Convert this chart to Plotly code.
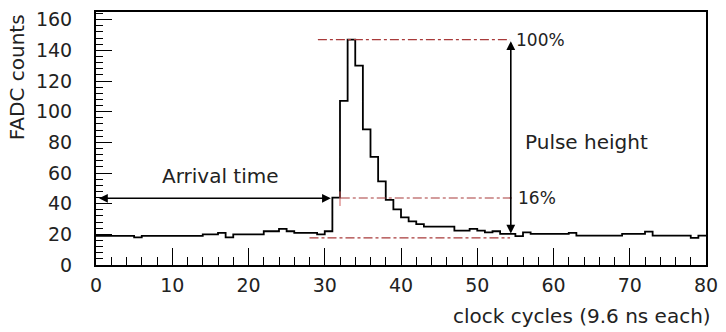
import plotly.graph_objects as go

# FADC counts per clock cycle (bin i spans [i, i+1])
counts = [19, 19, 19, 19, 19, 18, 19, 19, 19, 19,
          19, 19, 19, 19, 20, 20, 21, 18, 20, 20,
          20, 20, 22, 22, 23.5, 22, 21, 21, 21, 20,
          22, 44, 107, 147, 130, 88.5, 70.5, 54.5, 42.5, 36.3,
          31, 28.4, 26.7, 25, 25, 25, 25, 22.4, 22.4, 23.5,
          22.4, 21.3, 22, 20.3, 20.3, 18.8, 21.3, 20.3, 20.3, 20.3,
          20.3, 20.3, 21, 19.2, 19.2, 19.2, 19.2, 19.2, 19.2, 20.3,
          20.3, 20.3, 21.8, 19.2, 19.2, 19.2, 19.2, 19.2, 17.7, 19.2]
edges = list(range(0, 81))

x_ticks = [0, 10, 20, 30, 40, 50, 60, 70, 80]
y_ticks = [0, 20, 40, 60, 80, 100, 120, 140, 160]

# reference levels: (y, x_start, x_end, label)
level_y = [147, 43.7, 17.7]
level_x0 = [29.1, 32.1, 28.0]
level_x1 = [54.3, 54.6, 54.3]
level_labels = ["100%", "16%", ""]

arrival_y = 43.5
arrival_x = [0.2, 30.8]
pulse_x = 54.4
pulse_y = [19.5, 146]

fig = go.Figure()

fig.add_trace(go.Scatter(
    x=edges, y=counts + [counts[-1]], mode="lines",
    line=dict(shape="hv", color="black", width=1.8),
    hoverinfo="skip", showlegend=False))

for y, x0, x1 in zip(level_y, level_x0, level_x1):
    fig.add_trace(go.Scatter(
        x=[x0, x1], y=[y, y], mode="lines",
        line=dict(color="#a83a3a", width=1.2, dash="dashdot"),
        hoverinfo="skip", showlegend=False))

# small red marker at the 16% crossing
fig.add_trace(go.Scatter(
    x=[32.0, 32.0], y=[38.5, 48], mode="lines",
    line=dict(color="#d06060", width=1),
    hoverinfo="skip", showlegend=False))

for y, x1, lab in zip(level_y, level_x1, level_labels):
    if lab:
        fig.add_annotation(x=x1 + 0.5, y=y, text=lab, showarrow=False,
                           xanchor="left", yanchor="middle",
                           font=dict(family="DejaVu Sans", size=17, color="#222"))

# arrival time double arrow
fig.add_annotation(x=arrival_x[1], y=arrival_y, ax=arrival_x[0], ay=arrival_y,
                   xref="x", yref="y", axref="x", ayref="y", text="",
                   showarrow=True, arrowhead=2, startarrowhead=2,
                   arrowside="end+start", arrowsize=1.1, startarrowsize=1.1,
                   arrowwidth=1.6, arrowcolor="black")
fig.add_annotation(x=16.3, y=49, text="Arrival time", showarrow=False,
                   xanchor="center", yanchor="bottom",
                   font=dict(family="DejaVu Sans", size=20, color="#222"))

# pulse height double arrow
fig.add_annotation(x=pulse_x, y=pulse_y[1], ax=pulse_x, ay=pulse_y[0],
                   xref="x", yref="y", axref="x", ayref="y", text="",
                   showarrow=True, arrowhead=2, startarrowhead=2,
                   arrowside="end+start", arrowsize=1.1, startarrowsize=1.1,
                   arrowwidth=1.6, arrowcolor="black")
fig.add_annotation(x=56.0, y=80, text="Pulse height", showarrow=False,
                   xanchor="left", yanchor="middle",
                   font=dict(family="DejaVu Sans", size=20, color="#222"))

# axis titles
fig.add_annotation(x=-0.129, y=1.0, xref="paper", yref="paper",
                   text="FADC counts", textangle=-90, showarrow=False,
                   xanchor="center", yanchor="top",
                   font=dict(family="DejaVu Sans", size=20, color="#222"))
fig.add_annotation(x=1.012, y=-0.203, xref="paper", yref="paper",
                   text="clock cycles (9.6 ns each)", showarrow=False,
                   xanchor="right", yanchor="middle",
                   font=dict(family="DejaVu Sans", size=20, color="#222"))

axis_font = dict(family="DejaVu Sans", size=19, color="#222")
fig.update_xaxes(range=[0, 80], tickvals=x_ticks, ticktext=[str(v) for v in x_ticks],
                 ticks="inside", ticklen=17, tickwidth=1.4, tickcolor="black",
                 minor=dict(dtick=2, ticks="inside", ticklen=8, tickwidth=1.2, tickcolor="black"),
                 showline=True, linecolor="black", linewidth=2, mirror=True,
                 showgrid=False, zeroline=False, tickfont=axis_font,
                 ticklabelstandoff=2)
fig.update_yaxes(range=[0, 165], tickvals=y_ticks, ticktext=[str(v) for v in y_ticks],
                 ticks="inside", ticklen=16, tickwidth=1.4, tickcolor="black",
                 minor=dict(dtick=4, ticks="inside", ticklen=7, tickwidth=1.2, tickcolor="black"),
                 showline=True, linecolor="black", linewidth=2, mirror=True,
                 showgrid=False, zeroline=False, tickfont=axis_font,
                 ticklabelstandoff=18)

fig.update_layout(width=726, height=332, margin=dict(l=96, r=14, t=8, b=67),
                  paper_bgcolor="white", plot_bgcolor="white", showlegend=False)

fig.write_html("out.html")
